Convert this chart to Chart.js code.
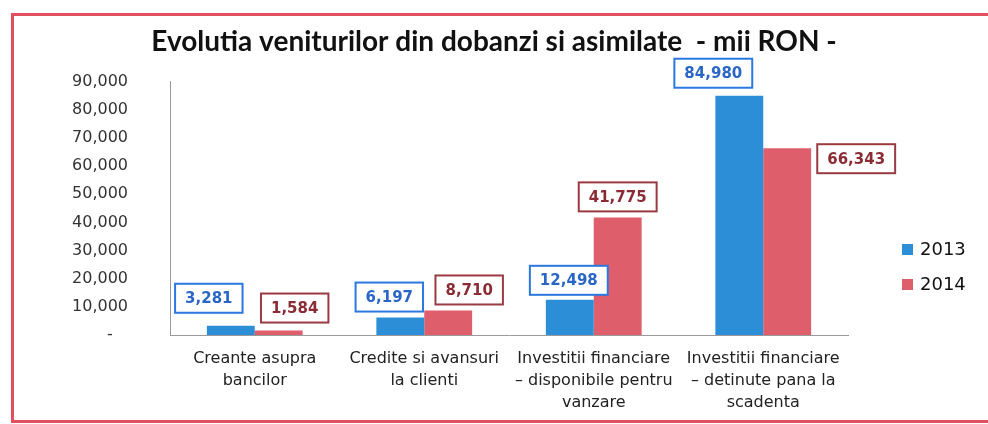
<!DOCTYPE html>
<html>
<head>
<meta charset="utf-8">
<script src="https://cdn.jsdelivr.net/npm/chart.js@4/dist/chart.umd.min.js"></script>
<style>
  html, body { margin: 0; padding: 0; background: #fff; }
  #wrap { position: relative; width: 988px; height: 424px; overflow: hidden; }
  #frame {
    position: absolute; left: 11px; top: 13px; width: 1100px; height: 410px;
    border: 3px solid #e0505e; box-sizing: border-box;
  }
  #chart { position: absolute; left: 0; top: 0; }
</style>
</head>
<body>
<div id="wrap">
  <div id="frame"></div>
  <canvas id="chart" width="988" height="424"></canvas>
</div>
<script>
// categories (multi-line labels as in the original)
const categories = [
  ['Creante asupra', 'bancilor'],
  ['Credite si avansuri', 'la clienti'],
  ['Investitii financiare', '\u2013 disponibile pentru', 'vanzare'],
  ['Investitii financiare', '\u2013 detinute pana la', 'scadenta']
]
const years = ['2013', '2014']
const values2013 = [3281, 6197, 12498, 84980]
const values2014 = [1584, 8710, 41775, 66343]
const yTicks = [0, 10000, 20000, 30000, 40000, 50000, 60000, 70000, 80000, 90000]

const BLUE = '#2d8ed8'
const RED = '#df5e6b'

// manual label placement (box centre x / box bottom relative to bar top), like Excel's dragged labels
const labelShift = [
  [[-22, -13], [-11, -6], [-1, -5], [-26, -8]],
  [[16, -8], [21, -6], [0, -6], [69, 25]]
]
const labelStyle = [
  { text: '#2a66c6', border: '#2b78e0' },
  { text: '#8b2c35', border: '#9a3a42' }
]

const fmt = (v) => v.toLocaleString('en-US')

const boxedLabels = {
  id: 'boxedLabels',
  afterDatasetsDraw(chart) {
    const ctx = chart.ctx
    ctx.save()
    ctx.font = 'bold 15px "DejaVu Sans"'
    ctx.textAlign = 'center'
    ctx.textBaseline = 'middle'
    chart.data.datasets.forEach((ds, di) => {
      const meta = chart.getDatasetMeta(di)
      meta.data.forEach((bar, i) => {
        const text = fmt(ds.data[i])
        const [dx, dy] = labelShift[di][i]
        const w = ctx.measureText(text).width + 20
        const h = 29
        const cx = bar.x + dx
        const bottom = bar.y + dy
        ctx.fillStyle = '#fff'
        ctx.fillRect(cx - w / 2, bottom - h, w, h)
        ctx.lineWidth = 2
        ctx.strokeStyle = labelStyle[di].border
        ctx.strokeRect(cx - w / 2, bottom - h, w, h)
        ctx.fillStyle = labelStyle[di].text
        ctx.fillText(text, cx, bottom - h / 2 + 1)
      })
    })
    ctx.restore()
  }
}

const sideLegend = {
  id: 'sideLegend',
  afterDraw(chart) {
    const ctx = chart.ctx
    ctx.save()
    ctx.font = '18px "DejaVu Sans"'
    ctx.textBaseline = 'middle'
    chart.data.datasets.forEach((ds, i) => {
      const y = 250 + i * 35
      ctx.fillStyle = ds.backgroundColor
      ctx.fillRect(902, y - 6, 11, 11)
      ctx.fillStyle = '#111'
      ctx.fillText(ds.label, 920, y)
    })
    ctx.restore()
  }
}

new Chart(document.getElementById('chart'), {
  type: 'bar',
  data: {
    labels: categories,
    datasets: [
      { label: years[0], data: values2013, backgroundColor: BLUE },
      { label: years[1], data: values2014, backgroundColor: RED }
    ]
  },
  options: {
    responsive: false,
    animation: false,
    layout: { padding: 0 },
    datasets: {
      bar: { categoryPercentage: 0.565, barPercentage: 1, borderWidth: 0 }
    },
    plugins: {
      legend: { display: false },
      tooltip: { enabled: false },
      title: {
        display: true,
        text: 'Evolutia veniturilor din dobanzi si asimilate  - mii RON -',
        color: '#111',
        font: { family: 'Lato', weight: 'bold', size: 28 },
        padding: { top: 25, bottom: 23 }
      }
    },
    scales: {
      x: {
        grid: { display: false, drawTicks: false },
        border: { display: true, color: '#9a9a9a', width: 1 },
        ticks: {
          color: '#222',
          padding: 13,
          maxRotation: 0,
          autoSkip: false,
          font: { family: 'DejaVu Sans', size: 16, lineHeight: 1.38 }
        },
        afterFit(scale) { scale.height = 89 }
      },
      y: {
        min: 0,
        max: 90000,
        afterBuildTicks(scale) { scale.ticks = yTicks.map((v) => ({ value: v })) },
        grid: { display: false, drawTicks: false },
        border: { display: true, color: '#9a9a9a', width: 1 },
        ticks: {
          color: '#333',
          padding: 42,
          font: { family: 'DejaVu Sans', size: 16 },
          callback: (v) => (v === 0 ? '-   ' : fmt(v))
        },
        afterFit(scale) { scale.width = 170 }
      },
      // empty right-hand strip that holds the legend area
      side: {
        position: 'right',
        display: true,
        grid: { display: false, drawTicks: false },
        border: { display: false },
        ticks: { display: false },
        afterFit(scale) { scale.width = 140 }
      }
    }
  },
  plugins: [boxedLabels, sideLegend]
})
</script>
</body>
</html>
